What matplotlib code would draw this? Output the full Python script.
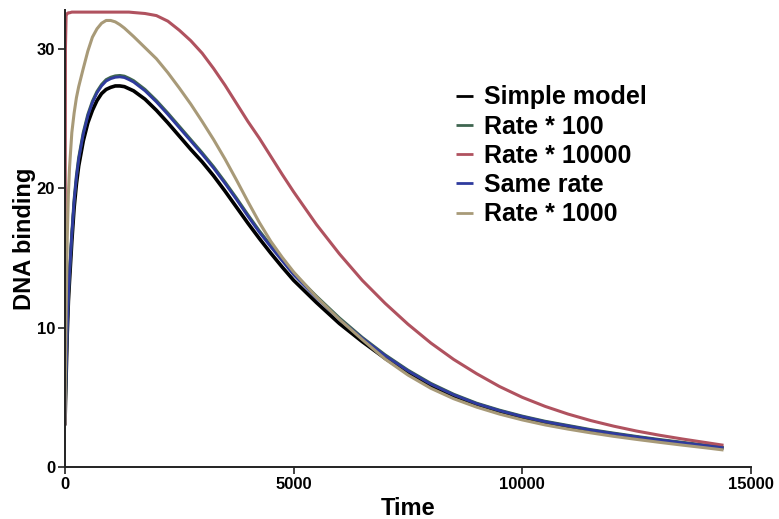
# Numpy (Array computing)
import numpy as np
# Matplotlib (Visualization)
import matplotlib
matplotlib.use('Agg')
import matplotlib.pyplot as plt

# Time points [s]
time_s = [0, 10, 25, 50, 75, 100, 150, 200, 250, 300, 400, 500, 600, 700, 800, 900,
          1000, 1100, 1200, 1300, 1400, 1500, 1750, 2000, 2250, 2500, 2750, 3000,
          3250, 3500, 3750, 4000, 4250, 4500, 4750, 5000, 5500, 6000, 6500, 7000,
          7500, 8000, 8500, 9000, 9500, 10000, 10500, 11000, 11500, 12000, 12500,
          13000, 13500, 14000, 14400]

# DNA binding
simple_model = [3.0, 4.5, 6.5, 9.6, 11.9, 13.4, 16.2, 18.6, 20.3, 21.6, 23.4, 24.7, 25.6, 26.3, 26.8, 27.1,
                27.25, 27.35, 27.35, 27.3, 27.15, 27.0, 26.4, 25.6, 24.7, 23.75, 22.8, 21.9,
                20.9, 19.8, 18.65, 17.5, 16.4, 15.35, 14.35, 13.4, 11.8, 10.3, 9.0, 7.8,
                6.75, 5.85, 5.1, 4.5, 4.0, 3.55, 3.2, 2.9, 2.6, 2.35, 2.12,
                1.9, 1.7, 1.5, 1.35]
rate_100 = [3.0, 4.6, 6.9, 10.1, 12.4, 14.0, 16.8, 19.2, 20.9, 22.2, 24.0, 25.3, 26.25, 26.95, 27.45, 27.8,
            27.97, 28.07, 28.1, 28.05, 27.9, 27.73, 27.1, 26.3, 25.4, 24.45, 23.5, 22.55,
            21.55, 20.45, 19.3, 18.1, 16.95, 15.9, 14.9, 13.9, 12.25, 10.7, 9.3, 8.05,
            6.95, 6.0, 5.22, 4.58, 4.08, 3.65, 3.28, 2.98, 2.68, 2.43, 2.19,
            1.97, 1.77, 1.57, 1.41]
rate_10000 = [3.0, 30.0, 32.4, 32.55, 32.6, 32.6, 32.65, 32.65, 32.65, 32.65, 32.65, 32.65, 32.65, 32.65, 32.65, 32.65,
              32.65, 32.65, 32.65, 32.65, 32.65, 32.62, 32.55, 32.4, 32.0, 31.35, 30.6, 29.7,
              28.6, 27.4, 26.1, 24.8, 23.6, 22.3, 21.0, 19.75, 17.4, 15.3, 13.4, 11.75,
              10.25, 8.9, 7.72, 6.7, 5.78, 5.0, 4.35, 3.8, 3.33, 2.93, 2.58,
              2.28, 2.01, 1.76, 1.56]
same_rate = [3.0, 4.6, 6.8, 10.0, 12.3, 13.9, 16.7, 19.1, 20.8, 22.1, 23.9, 25.2, 26.15, 26.85, 27.35, 27.7,
             27.87, 27.97, 28.0, 27.95, 27.8, 27.63, 27.0, 26.2, 25.3, 24.35, 23.4, 22.45,
             21.45, 20.35, 19.2, 18.0, 16.85, 15.8, 14.8, 13.8, 12.15, 10.6, 9.25, 8.0,
             6.9, 5.95, 5.18, 4.55, 4.05, 3.62, 3.25, 2.95, 2.65, 2.4, 2.16,
             1.94, 1.74, 1.54, 1.38]
rate_1000 = [3.0, 6.5, 11.0, 16.5, 19.6, 21.5, 24.0, 25.4, 26.5, 27.3, 28.6, 29.85, 30.85, 31.45, 31.85, 32.05,
             32.05, 31.95, 31.75, 31.5, 31.2, 30.9, 30.1, 29.3, 28.3, 27.2, 26.05, 24.8,
             23.5, 22.1, 20.6, 19.05, 17.55, 16.2, 15.05, 14.0, 12.2, 10.6, 9.15, 7.75,
             6.6, 5.65, 4.9, 4.3, 3.8, 3.38, 3.02, 2.72, 2.45, 2.2, 1.98,
             1.77, 1.57, 1.38, 1.22]

SERIES = [simple_model, rate_100, rate_10000, same_rate, rate_1000]
SERIES_NAME = ['Simple model', 'Rate * 100', 'Rate * 10000', 'Same rate', 'Rate * 1000']
X_TICKS = [0, 5000, 10000, 15000]
Y_TICKS = [0, 10, 20, 30]


def main():
    plt.rcParams['font.family'] = ['Liberation Sans', 'DejaVu Sans']
    plt.rcParams['font.weight'] = 'bold'

    # Colour and width of each line
    C = ['#000000', '#3f6650', '#b0525f', '#2f3b9e', '#a89a78']
    W = [2.6, 2.2, 2.2, 2.0, 2.2]

    fig = plt.figure(figsize=(7.79, 5.19), dpi=100)
    ax = fig.add_axes([0.0834, 0.1002, 0.8806, 0.8805])

    for y, name, c, w in zip(SERIES, SERIES_NAME, C, W):
        ax.plot(time_s, y, '-', color=c, linewidth=w, label=name,
                solid_joinstyle='round', solid_capstyle='butt')

    # Axis limits
    ax.set_xlim(0, 15000)
    ax.set_ylim(0, 32.8)
    ax.set_xticks(X_TICKS)
    ax.set_yticks(Y_TICKS)

    # Spines and ticks
    for side in ['top', 'right']:
        ax.spines[side].set_visible(False)
    for side in ['left', 'bottom']:
        ax.spines[side].set_linewidth(1.4)
        ax.spines[side].set_color('#222222')
    ax.tick_params(direction='out', length=5, width=1.2, colors='#222222',
                   labelcolor='black', labelsize=12, pad=2)
    for lab in ax.get_xticklabels() + ax.get_yticklabels():
        lab.set_fontweight('bold')

    # Labels
    ax.set_xlabel('Time', fontsize=17, fontweight='bold', labelpad=4)
    ax.set_ylabel('DNA binding', fontsize=17, fontweight='bold', labelpad=0.5)

    # Legend
    leg = ax.legend(loc='upper left', bbox_to_anchor=(0.555, 0.857), frameon=False,
                    fontsize=18, handlelength=0.68, handletextpad=0.44,
                    labelspacing=0.21, borderaxespad=0)
    for txt in leg.get_texts():
        txt.set_fontweight('bold')
    for line in leg.get_lines():
        line.set_linewidth(2.0)

    fig.savefig('out.png', dpi=100)


if __name__ == '__main__':
    main()
